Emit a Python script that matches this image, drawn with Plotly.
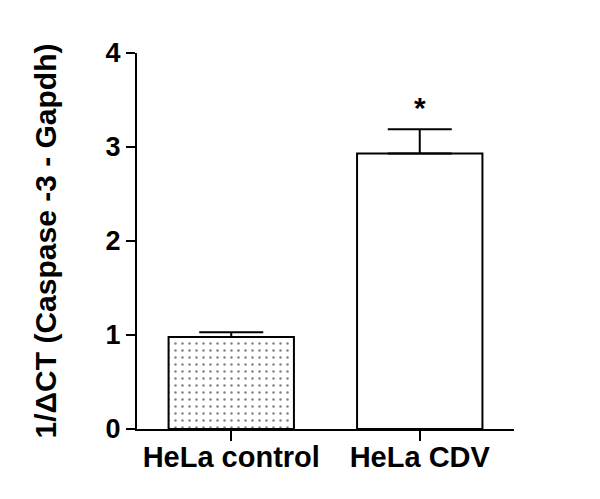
import plotly.graph_objects as go

groups = ["HeLa control", "HeLa CDV"]
means = [0.98, 2.93]
sem = [0.05, 0.26]
star_y = 3.42
y_ticks = [0, 1, 2, 3, 4]

font = "Liberation Sans, Arial"

fig = go.Figure()
fig.add_trace(go.Bar(
    x=groups, y=means, width=0.665,
    marker=dict(
        color="white",
        line=dict(color="black", width=2),
        pattern=dict(shape=[".", ""], fgcolor="black", bgcolor="white",
                     size=7, solidity=0.1),
    ),
    error_y=dict(type="data", array=sem, arrayminus=[0, 0], symmetric=False,
                 color="black", thickness=2, width=32),
))

fig.add_annotation(x=groups[1], y=star_y, text="*", showarrow=False,
                   font=dict(size=30, color="black", family=font, weight="bold"))

# page body has an 8px margin, so margins are shifted to compensate
fig.update_layout(
    width=600, height=499,
    margin=dict(l=129, r=94, t=45, b=78),
    plot_bgcolor="white", paper_bgcolor="white",
    showlegend=False,
    font=dict(family=font, color="black"),
)
fig.update_xaxes(
    range=[-0.5, 1.5], showline=True, linecolor="black", linewidth=2,
    ticks="outside", ticklen=10, tickwidth=2, tickcolor="black",
    tickfont=dict(size=29, family=font, weight="bold"), showgrid=False,
    ticklabelstandoff=-9,
)
fig.update_yaxes(
    range=[0, 4], tickvals=y_ticks, showline=True, linecolor="black", linewidth=2,
    ticks="outside", ticklen=9, tickwidth=2, tickcolor="black",
    tickfont=dict(size=27, family=font, weight="bold"), showgrid=False, zeroline=False,
    title=dict(text="1/ΔCT (Caspase -3 - Gapdh)", font=dict(size=30, family=font, weight="bold"),
               standoff=40),
)

fig.write_html("out.html")
